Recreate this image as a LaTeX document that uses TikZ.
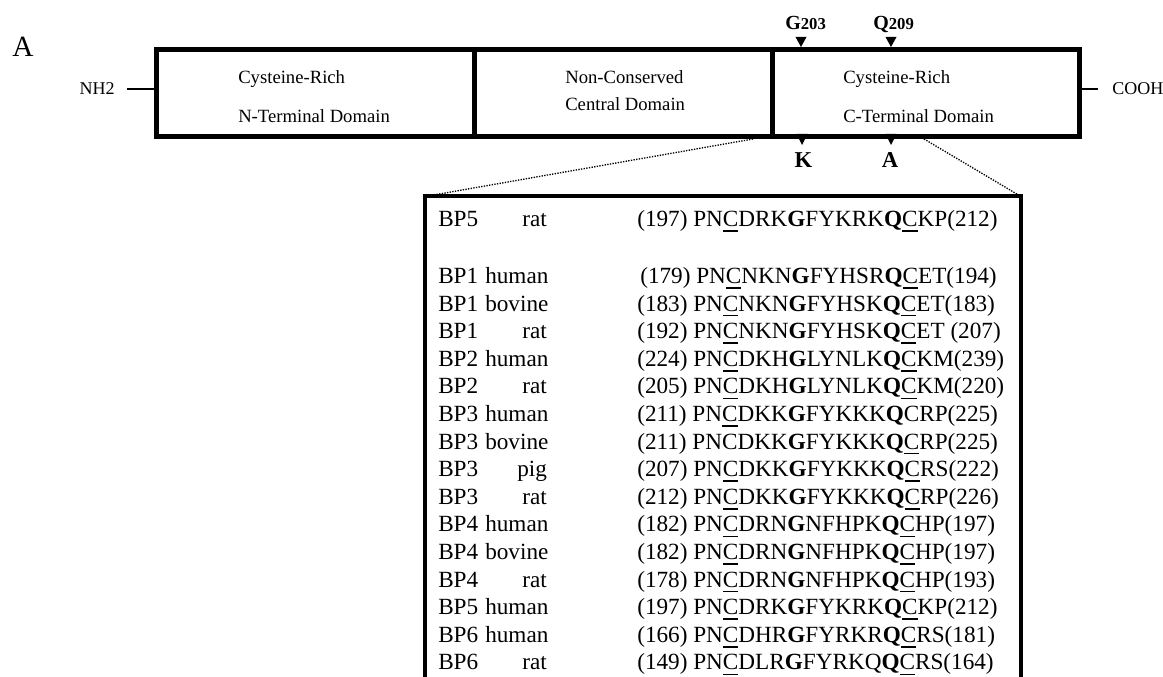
\documentclass[tikz,border=0pt]{standalone}
\usepackage{fontspec}
\setmainfont{Liberation Serif}
\usetikzlibrary{positioning}
\newcommand{\ucys}[1]{\setbox0\hbox{#1}\rlap{\rule[-4pt]{\wd0}{1.2pt}}\box0}

\begin{document}
\begin{tikzpicture}[x=0.75pt, y=-0.75pt,
  domainbox/.style={draw, line width=3.75pt, inner sep=0pt, outer sep=0pt, minimum height=65.25pt},
  dlabel/.style={font=\fontsize{14}{16}\selectfont, inner sep=0pt, anchor=base west},
  term/.style={font=\fontsize{13.5}{16}\selectfont, inner sep=0pt},
  sitelbl/.style={font=\fontsize{15}{17}\selectfont\bfseries, inner sep=0pt, anchor=base west},
  residue/.style={font=\fontsize{17}{20}\selectfont\bfseries, inner sep=0pt, anchor=base},
  seq/.style={font=\fontsize{17.4}{20}\selectfont, inner sep=0pt, anchor=base west}]
\useasboundingbox (0,0) rectangle (1163,677);

\node[font=\fontsize{22}{24}\selectfont, inner sep=0pt, anchor=base west] (panel) at (12,57) {A};

% protein domains
\node[domainbox, minimum width=238.5pt] (nterm) at (315.5,93) {};
\node[domainbox, minimum width=223.5pt, right=0pt of nterm] (central) {};
\node[domainbox, minimum width=230.25pt, right=0pt of central] (cterm) {};

\node[dlabel] (n1) at (238,84) {Cysteine-Rich};
\node[dlabel] (n2) at (238,123) {N-Terminal Domain};
\node[dlabel] (m1) at (565,84) {Non-Conserved};
\node[dlabel] (m2) at (565,111) {Central Domain};
\node[dlabel] (c1) at (843,84) {Cysteine-Rich};
\node[dlabel] (c2) at (843,123) {C-Terminal Domain};

\node[term, anchor=base east] (nh2) at (115,95) {NH2};
\node[term, anchor=base west] (cooh) at (1112,95) {COOH};
\draw[line width=1.3pt] ([xshift=9pt]nh2.east) -- (nh2.east -| nterm.west);
\draw[line width=1.3pt] (cterm.east |- cooh.west) -- ([xshift=-10.5pt]cooh.west);

% mutated sites
\coordinate (g203) at (801,47);
\coordinate (q209) at (891,47);
\coordinate (k) at (802,145);
\coordinate (a) at (891,145);
\foreach \s in {g203,q209} \fill (\s) -- ++(-5.5,-10) -- ++(11,0) -- cycle;
\foreach \s in {k,a} \fill (\s) -- ++(-5.5,-11) -- ++(11,0) -- cycle;
\node[sitelbl] (g203lbl) at (785,30) {G\fontsize{12.5}{14}\selectfont 203};
\node[sitelbl] (q209lbl) at (873,30) {Q\fontsize{12.5}{14}\selectfont 209};
\node[residue] (klbl) at (803.5,168) {K};
\node[residue] (albl) at (890,168) {A};

% zoom into the alignment
\coordinate (zl) at (753,139);
\coordinate (zr) at (924,139);
\coordinate (boxnw) at (425,196.5);
\coordinate (boxne) at (1021,196.5);
\draw[line width=1pt, densely dotted] (zl) -- (boxnw);
\draw[line width=1pt, densely dotted] (zr) -- (boxne);
\draw[line width=3pt] (425,680) -- (boxnw) -- (boxne) -- (1021,680);

\node[seq] (bp0) at (438,226.5) {BP5};
\node[seq] (sp0) at (522,226.5) {rat};
\node[seq] (sq0) at (637,226.5) {(197) PN\ucys{C}DRK\textbf{G}FYKRK\textbf{Q}\ucys{C}KP(212)};
\foreach \bp/\sp/\spx/\sqx/\sq [count=\i] in {
  BP1/human/485/640/{(179) PN\ucys{C}NKN\textbf{G}FYHSR\textbf{Q}\ucys{C}ET(194)},
  BP1/bovine/485/637/{(183) PN\ucys{C}NKN\textbf{G}FYHSK\textbf{Q}\ucys{C}ET(183)},
  BP1/rat/522/637/{(192) PN\ucys{C}NKN\textbf{G}FYHSK\textbf{Q}\ucys{C}ET (207)},
  BP2/human/485/637/{(224) PN\ucys{C}DKH\textbf{G}LYNLK\textbf{Q}\ucys{C}KM(239)},
  BP2/rat/522/637/{(205) PN\ucys{C}DKH\textbf{G}LYNLK\textbf{Q}\ucys{C}KM(220)},
  BP3/human/485/637/{(211) PN\ucys{C}DKK\textbf{G}FYKKK\textbf{Q}CRP(225)},
  BP3/bovine/485/637/{(211) PNCDKK\textbf{G}FYKKK\textbf{Q}\ucys{C}RP(225)},
  BP3/pig/517/637/{(207) PN\ucys{C}DKK\textbf{G}FYKKK\textbf{Q}\ucys{C}RS(222)},
  BP3/rat/522/637/{(212) PN\ucys{C}DKK\textbf{G}FYKKK\textbf{Q}\ucys{C}RP(226)},
  BP4/human/485/637/{(182) PN\ucys{C}DRN\textbf{G}NFHPK\textbf{Q}\ucys{C}HP(197)},
  BP4/bovine/485/637/{(182) PN\ucys{C}DRN\textbf{G}NFHPK\textbf{Q}\ucys{C}HP(197)},
  BP4/rat/522/637/{(178) PN\ucys{C}DRN\textbf{G}NFHPK\textbf{Q}\ucys{C}HP(193)},
  BP5/human/485/637/{(197) PN\ucys{C}DRK\textbf{G}FYKRK\textbf{Q}\ucys{C}KP(212)},
  BP6/human/485/637/{(166) PN\ucys{C}DHR\textbf{G}FYRKR\textbf{Q}\ucys{C}RS(181)},
  BP6/rat/522/637/{(149) PN\ucys{C}DLR\textbf{G}FYRKQ\textbf{Q}\ucys{C}RS(164)}}{
  \node[seq] (bp\i) at (438,{283.5+27.6*(\i-1)}) {\bp};
  \node[seq] (sp\i) at (\spx,{283.5+27.6*(\i-1)}) {\sp};
  \node[seq] (sq\i) at (\sqx,{283.5+27.6*(\i-1)}) {\sq};
}
\end{tikzpicture}
\end{document}
